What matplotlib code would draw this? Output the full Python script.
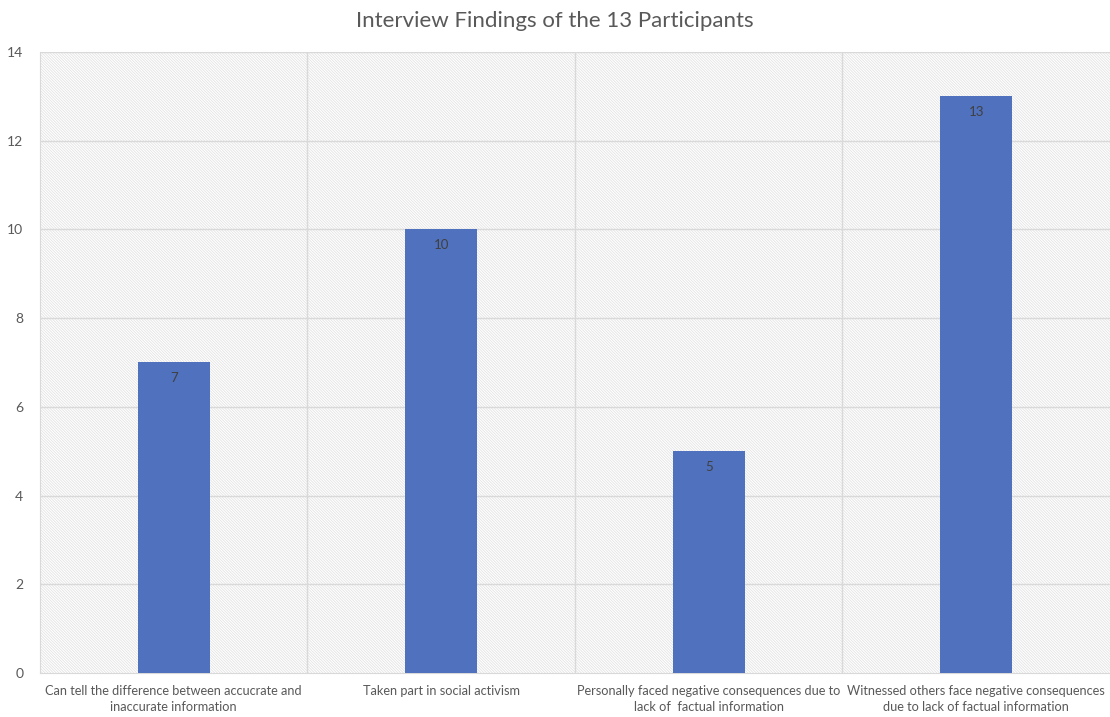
import matplotlib.pyplot as plt
from matplotlib.patches import Rectangle

categories = ['Can tell the difference between accucrate and\ninaccurate information',
              'Taken part in social activism',
              'Personally faced negative consequences due to\nlack of  factual information',
              'Witnessed others face negative consequences\ndue to lack of factual information']
counts = [7, 10, 5, 13]
yticks = [0, 2, 4, 6, 8, 10, 12, 14]

plt.rcParams['font.family'] = ['Lato', 'DejaVu Sans']
plt.rcParams['hatch.linewidth'] = 0.6
grey = '#595959'
grid = '#d9d9d9'

fig = plt.figure(figsize=(11.1, 7.17), dpi=100)
ax = fig.add_axes([0.036, 0.0614, 0.964, 0.8661])

# hatched plot background
ax.add_patch(Rectangle((0, 0), 1, 1, transform=ax.transAxes, facecolor='white',
                       edgecolor='#e3e3e3', hatch='\\' * 12, lw=0, zorder=0))

x = range(len(categories))
ax.bar(x, counts, width=0.27, color='#4f71be', zorder=3)
for i, v in enumerate(counts):
    ax.annotate(str(v), (i, v), xytext=(0, -7), textcoords='offset points',
                ha='center', va='top', fontsize=9.5, color='#404040', zorder=4)

ax.set_xlim(-0.5, len(categories) - 0.5)
ax.set_ylim(0, 14)
ax.set_yticks(yticks)
ax.set_xticks(list(x))
ax.set_xticklabels(categories, fontsize=9.2, color=grey, linespacing=1.4)
ax.tick_params(axis='y', labelsize=10, labelcolor=grey, length=0, pad=12)
ax.tick_params(axis='x', length=0, pad=9)

for y in yticks[1:]:
    ax.axhline(y, color=grid, lw=1, zorder=1)
for b in [0.5, 1.5, 2.5]:
    ax.axvline(b, color=grid, lw=1, zorder=1)
for s in ['top', 'right']:
    ax.spines[s].set_visible(False)
ax.spines['left'].set_color(grid)
ax.spines['bottom'].set_color(grid)

fig.suptitle('Interview Findings of the 13 Participants', fontsize=16, color=grey, y=0.985)

fig.savefig('out.png', dpi=100)
